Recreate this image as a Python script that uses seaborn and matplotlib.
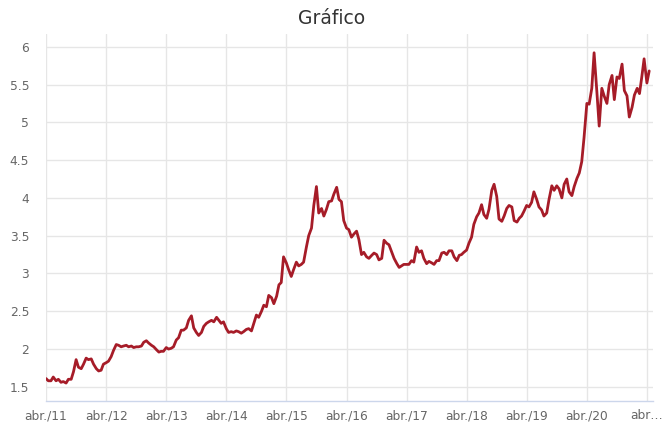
import pandas as pd
import matplotlib
matplotlib.use("Agg")
import matplotlib.pyplot as plt
import seaborn as sns

# === Data: semi-monthly readings (1st and 15th), Apr 2011 .. Apr 2021
v2011 = [1.61, 1.58, 1.58, 1.63, 1.58, 1.60, 1.56, 1.57, 1.55, 1.60,
         1.60, 1.70, 1.86, 1.76, 1.74, 1.80, 1.88, 1.86]
v2012 = [1.87, 1.80, 1.74, 1.71, 1.72, 1.80, 1.82, 1.84, 1.90, 1.98, 2.06, 2.05,
         2.03, 2.04, 2.05, 2.03, 2.04, 2.02, 2.03, 2.03, 2.04, 2.09, 2.11, 2.08]
v2013 = [2.05, 2.03, 1.99, 1.96, 1.97, 1.97, 2.02, 2.00, 2.01, 2.03, 2.12, 2.15,
         2.25, 2.25, 2.28, 2.38, 2.44, 2.28, 2.22, 2.18, 2.22, 2.30, 2.34, 2.36]
v2014 = [2.38, 2.36, 2.42, 2.38, 2.34, 2.36, 2.27, 2.22, 2.23, 2.22, 2.24, 2.23,
         2.21, 2.23, 2.26, 2.27, 2.24, 2.34, 2.45, 2.42, 2.50, 2.58, 2.56, 2.71]
v2015 = [2.68, 2.60, 2.70, 2.85, 2.88, 3.22, 3.14, 3.05, 2.96, 3.05, 3.15, 3.10,
         3.12, 3.15, 3.35, 3.50, 3.60, 3.90, 4.15, 3.80, 3.86, 3.76, 3.85, 3.95]
v2016 = [3.96, 4.05, 4.14, 3.98, 3.95, 3.70, 3.60, 3.58, 3.48, 3.52, 3.56, 3.45,
         3.25, 3.28, 3.22, 3.20, 3.24, 3.27, 3.25, 3.18, 3.20, 3.44, 3.40, 3.38]
v2017 = [3.28, 3.20, 3.13, 3.08, 3.10, 3.12, 3.12, 3.12, 3.17, 3.15, 3.35, 3.28,
         3.30, 3.20, 3.13, 3.16, 3.14, 3.12, 3.17, 3.17, 3.27, 3.28, 3.25, 3.30]
v2018 = [3.30, 3.22, 3.17, 3.24, 3.25, 3.28, 3.31, 3.40, 3.48, 3.65, 3.75, 3.80,
         3.91, 3.78, 3.73, 3.85, 4.10, 4.18, 4.02, 3.72, 3.69, 3.76, 3.86, 3.90]
v2019 = [3.88, 3.70, 3.68, 3.73, 3.76, 3.82, 3.90, 3.88, 3.94, 4.08, 3.98, 3.88,
         3.84, 3.76, 3.80, 3.98, 4.16, 4.10, 4.16, 4.12, 4.00, 4.18, 4.25, 4.08]
v2020 = [4.03, 4.15, 4.26, 4.33, 4.48, 4.80, 5.25, 5.24, 5.45, 5.92, 5.40, 4.95,
         5.45, 5.35, 5.25, 5.50, 5.62, 5.30, 5.60, 5.58, 5.77, 5.42, 5.35, 5.07]
v2021 = [5.20, 5.36, 5.45, 5.38, 5.60, 5.84, 5.52, 5.68]

values = v2011 + v2012 + v2013 + v2014 + v2015 + v2016 + v2017 + v2018 + v2019 + v2020 + v2021
dates = pd.date_range("2011-04-01", periods=len(values), freq="SMS")
df = pd.DataFrame({"data": dates, "valor": values})

tick_dates = pd.date_range("2011-04-01", "2021-04-01", freq="12MS")
tick_labels = [f"abr./{d.strftime('%y')}" for d in tick_dates[:-1]] + ["abr…"]
y_ticks = [1.5, 2, 2.5, 3, 3.5, 4, 4.5, 5, 5.5, 6]

# === Plot
sns.set_theme(style="whitegrid")
plt.rcParams["font.family"] = ["DejaVu Sans"]

fig = plt.figure(figsize=(6.64, 4.42), dpi=100)
ax = fig.add_axes([0.0693, 0.0928, 0.9141, 0.8302])

sns.lineplot(data=df, x="data", y="valor", color="#a61c28", linewidth=2.0, ax=ax)

ax.set_xlim(pd.Timestamp("2011-04-01"), pd.Timestamp("2021-05-08"))
ax.set_ylim(1.313, 6.168)
ax.set_xticks(tick_dates)
ax.set_xticklabels(tick_labels)
ax.set_yticks(y_ticks)
ax.set_yticklabels([f"{t:g}" for t in y_ticks])

ax.grid(True, color="#e6e6e6", linewidth=1)
ax.tick_params(axis="both", colors="#666666", labelsize=8.8, length=0)
ax.tick_params(axis="x", pad=6)
ax.tick_params(axis="y", pad=12)
for s in ["left", "right", "top"]:
    ax.spines[s].set_visible(False)
ax.spines["bottom"].set_color("#ccd6eb")
ax.spines["bottom"].set_linewidth(1)
ax.set_xlabel("")
ax.set_ylabel("")

fig.text(0.5, 0.958, "Gráfico", ha="center", va="center", fontsize=13.5, color="#333333")

fig.savefig("out.png", dpi=100)
